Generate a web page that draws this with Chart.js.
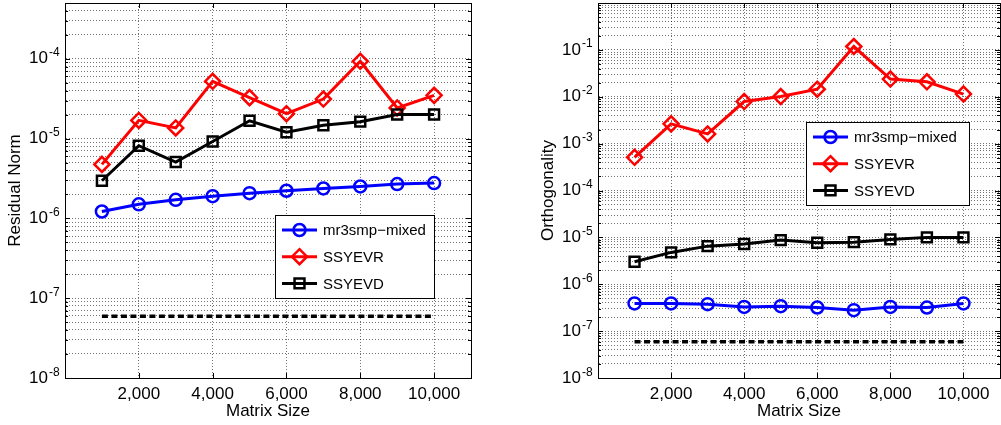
<!DOCTYPE html>
<html>
<head>
<meta charset="utf-8">
<script src="https://cdn.jsdelivr.net/npm/chart.js@4.4.1/dist/chart.umd.min.js"></script>
<style>
  html, body { margin: 0; padding: 0; background: #fff; }
  body { width: 1001px; height: 425px; position: relative; overflow: hidden; }
  canvas { position: absolute; top: 0; }
  #residual { left: 0; }
  #ortho { left: 533px; }
</style>
</head>
<body>
<canvas id="residual" width="500" height="425"></canvas>
<canvas id="ortho" width="468" height="425"></canvas>
<script>
// values
const matrixSizes = [1000, 2000, 3000, 4000, 5000, 6000, 7000, 8000, 9000, 10000];
const xTicks = [2000, 4000, 6000, 8000, 10000];
const seriesNames = ['mr3smp−mixed', 'SSYEVR', 'SSYEVD'];

const residualMixed = [1.22e-6, 1.50e-6, 1.71e-6, 1.90e-6, 2.07e-6, 2.22e-6, 2.37e-6, 2.51e-6, 2.69e-6, 2.77e-6];
const residualEvr = [4.75e-6, 1.69e-5, 1.36e-5, 5.22e-5, 3.26e-5, 2.05e-5, 3.13e-5, 9.3e-5, 2.42e-5, 3.48e-5];
const residualEvd = [2.96e-6, 8.15e-6, 5.08e-6, 9.2e-6, 1.67e-5, 1.20e-5, 1.47e-5, 1.63e-5, 2.0e-5, 2.0e-5];

const orthoMixed = [3.89e-7, 3.89e-7, 3.76e-7, 3.29e-7, 3.40e-7, 3.19e-7, 2.80e-7, 3.29e-7, 3.19e-7, 3.89e-7];
const orthoEvr = [5.1e-4, 2.64e-3, 1.61e-3, 7.9e-3, 1.01e-2, 1.45e-2, 0.118, 2.38e-2, 2.08e-2, 1.14e-2];
const orthoEvd = [3.01e-6, 4.78e-6, 6.5e-6, 7.2e-6, 8.75e-6, 7.67e-6, 7.9e-6, 9.06e-6, 1.0e-5, 1.0e-5];

// single precision eps reference line
const epsX = [1000, 10000];
const epsY = [5.96e-8, 5.96e-8];

const residualDecades = [-8, -7, -6, -5, -4];
const orthoDecades = [-8, -7, -6, -5, -4, -3, -2, -1];

const FONT = "'Liberation Sans', Arial, sans-serif";
Chart.defaults.font.family = FONT;
Chart.defaults.color = '#000';

function logTicks(decades, max) {
  const out = [];
  decades.forEach(e => {
    for (let m = 1; m <= 9; m++) {
      const v = m * Math.pow(10, e);
      if (v <= max * 1.0001) out.push({ value: v, major: m === 1, exp: e });
    }
  });
  return out;
}

function pts(ys, xs) {
  return (xs || matrixSizes).map((x, i) => ({ x: x, y: ys[i] }));
}

function drawMarker(ctx, style, x, y, r) {
  ctx.beginPath();
  if (style === 'circle') {
    ctx.arc(x, y, r, 0, Math.PI * 2);
  } else if (style === 'rectRot') {
    ctx.moveTo(x, y - r); ctx.lineTo(x + r, y); ctx.lineTo(x, y + r); ctx.lineTo(x - r, y); ctx.closePath();
  } else {
    const s = r * Math.SQRT1_2;
    ctx.rect(x - s, y - s, 2 * s, 2 * s);
  }
  ctx.stroke();
}

// axes box, inward tick marks, exponents and the boxed legend
const framePlugin = {
  id: 'frame',
  afterDatasetsDraw(chart, args, opts) {
    const ctx = chart.ctx;
    const a = chart.chartArea;
    const xs = chart.scales.x, ys = chart.scales.y;
    ctx.save();
    ctx.strokeStyle = '#000';
    ctx.lineWidth = 1;
    ctx.setLineDash([]);
    ctx.beginPath();
    ys.ticks.forEach(t => {
      const py = Math.round(ys.getPixelForValue(t.value)) + 0.5;
      const len = t.major ? 5 : 3;
      ctx.moveTo(a.left, py); ctx.lineTo(a.left + len, py);
      ctx.moveTo(a.right, py); ctx.lineTo(a.right - len, py);
    });
    xs.ticks.forEach(t => {
      const px = Math.round(xs.getPixelForValue(t.value)) + 0.5;
      ctx.moveTo(px, a.bottom); ctx.lineTo(px, a.bottom - 5);
      ctx.moveTo(px, a.top); ctx.lineTo(px, a.top + 5);
    });
    ctx.stroke();
    ctx.strokeRect(Math.round(a.left) + 0.5, Math.round(a.top) + 0.5, Math.round(a.right - a.left), Math.round(a.bottom - a.top));

    // exponents of the 10^n tick labels
    ctx.fillStyle = '#000';
    ctx.font = '12px ' + FONT;
    ctx.textAlign = 'left';
    ctx.textBaseline = 'alphabetic';
    ys.ticks.forEach(t => {
      if (!t.major) return;
      const py = ys.getPixelForValue(t.value);
      ctx.fillText('-' + Math.abs(t.exp), a.left - 16, py - 2.5);
    });

    // legend
    const bx = a.left + opts.x, by = a.top + opts.y;
    ctx.fillStyle = '#fff';
    ctx.fillRect(bx, by, opts.w, opts.h);
    ctx.strokeRect(Math.round(bx) + 0.5, Math.round(by) + 0.5, opts.w, opts.h);
    ctx.font = '15px ' + FONT;
    ctx.textBaseline = 'middle';
    let row = 0;
    chart.data.datasets.forEach(ds => {
      if (!ds.label) return;
      const y = by + 15 + row * 26.7;
      const x1 = bx + 7, x2 = bx + 42;
      ctx.strokeStyle = ds.borderColor;
      ctx.lineWidth = ds.borderWidth;
      ctx.beginPath(); ctx.moveTo(x1, y); ctx.lineTo(x2, y); ctx.stroke();
      ctx.lineWidth = ds.pointBorderWidth;
      drawMarker(ctx, ds.pointStyle, (x1 + x2) / 2, y, ds.pointRadius);
      ctx.fillStyle = '#000';
      ctx.fillText(ds.label, bx + 48, y + 1);
      row++;
    });
    ctx.restore();
  }
};

function makeChart(id, yTitle, yMax, decades, mixed, evr, evd, padRight, legendPos) {
  const gridStyle = { color: 'rgba(0,0,0,0.55)', lineWidth: 1, drawTicks: false };
  const borderStyle = { display: true, color: '#000', width: 1, dash: [1, 2] };
  return new Chart(document.getElementById(id), {
    type: 'line',
    data: {
      datasets: [{
        label: seriesNames[0],
        data: pts(mixed),
        borderColor: '#0000ff',
        borderWidth: 3,
        pointStyle: 'circle',
        pointRadius: 6,
        pointBorderWidth: 2.5,
        pointBackgroundColor: 'rgba(0,0,0,0)',
        pointBorderColor: '#0000ff',
        order: 3
      }, {
        label: seriesNames[1],
        data: pts(evr),
        borderColor: '#ff0000',
        borderWidth: 3,
        pointStyle: 'rectRot',
        pointRadius: 7.5,
        pointBorderWidth: 2.5,
        pointBackgroundColor: 'rgba(0,0,0,0)',
        pointBorderColor: '#ff0000',
        order: 2
      }, {
        label: seriesNames[2],
        data: pts(evd),
        borderColor: '#000000',
        borderWidth: 3,
        pointStyle: 'rect',
        pointRadius: 7,
        pointBorderWidth: 2.5,
        pointBackgroundColor: 'rgba(0,0,0,0)',
        pointBorderColor: '#000000',
        order: 1
      }, {
        label: '',
        data: pts(epsY, epsX),
        borderColor: '#000000',
        borderWidth: 3.5,
        borderDash: [6, 3.5],
        pointRadius: 0,
        order: 4
      }]
    },
    options: {
      responsive: false,
      animation: false,
      layout: { autoPadding: false, padding: { top: 3, right: padRight, left: 0, bottom: 0 } },
      plugins: {
        legend: { display: false },
        tooltip: { enabled: false },
        frame: legendPos
      },
      scales: {
        x: {
          type: 'linear',
          min: 0,
          max: 11000,
          afterBuildTicks: s => { s.ticks = xTicks.map(v => ({ value: v })); },
          afterFit: s => { s.height = 47; s.paddingLeft = 0; s.paddingRight = 0; },
          ticks: {
            autoSkip: false,
            maxRotation: 0,
            padding: 6,
            font: { size: 17 },
            callback: v => v.toLocaleString('en-US')
          },
          grid: gridStyle,
          border: borderStyle,
          title: { display: true, text: 'Matrix Size', font: { size: 17 }, padding: { top: 0, bottom: 3 } }
        },
        y: {
          type: 'logarithmic',
          min: 1e-8,
          max: yMax,
          afterBuildTicks: s => { s.ticks = logTicks(decades, yMax); },
          afterFit: s => { s.width = 65; s.paddingTop = 0; s.paddingBottom = 0; },
          ticks: {
            autoSkip: false,
            padding: 17,
            font: { size: 17 },
            callback: (v, i, ticks) => (ticks[i].major ? '10' : '')
          },
          grid: gridStyle,
          border: borderStyle,
          title: { display: true, text: yTitle, font: { size: 17 }, padding: { top: 5, bottom: 0 } }
        }
      }
    },
    plugins: [framePlugin]
  });
}

makeChart('residual', 'Residual Norm', 5e-4, residualDecades, residualMixed, residualEvr, residualEvd, 29,
  { x: 210, y: 212, w: 159, h: 83 });
makeChart('ortho', 'Orthogonality', 1, orthoDecades, orthoMixed, orthoEvr, orthoEvd, 1,
  { x: 208, y: 119, w: 163, h: 83 });
</script>
</body>
</html>
